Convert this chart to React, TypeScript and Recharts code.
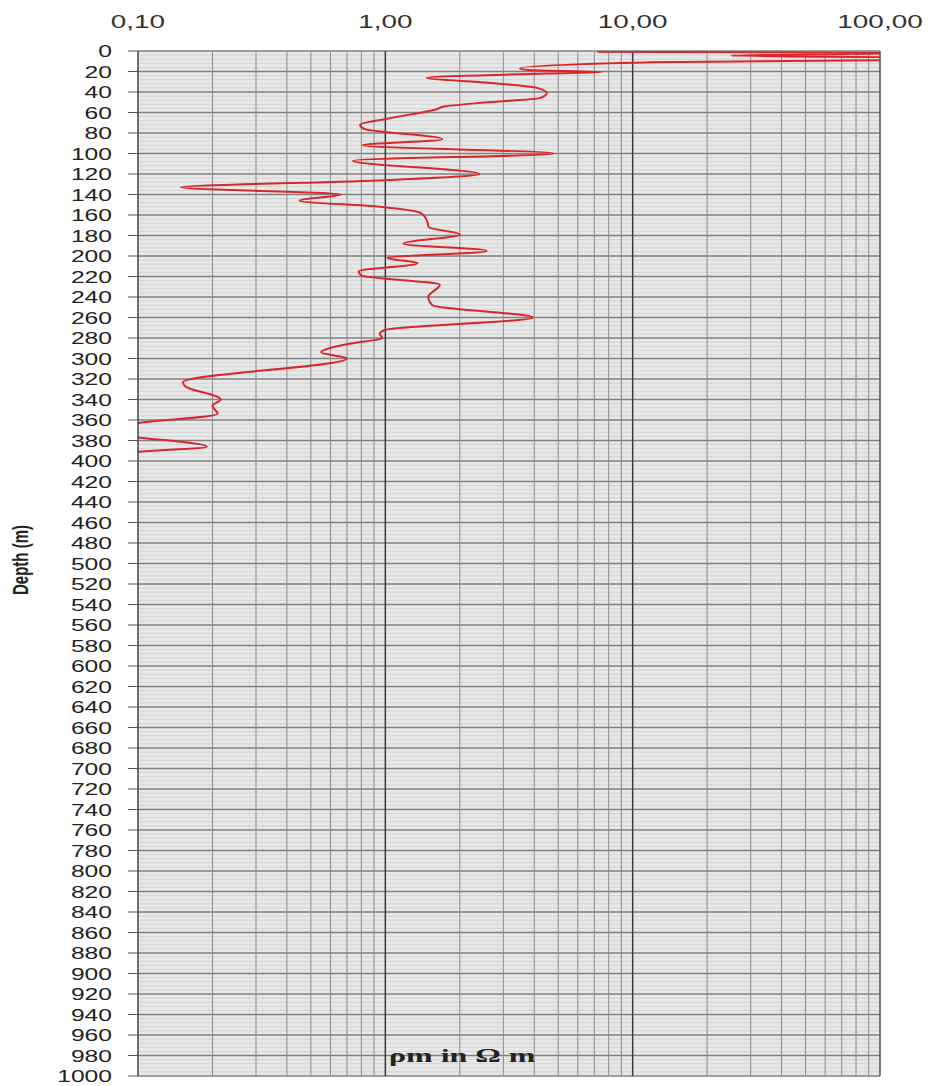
import {
  LineChart,
  Line,
  XAxis,
  YAxis,
  ReferenceLine,
  ReferenceArea,
} from 'recharts';

const depths = [
  0.8, 1.8, 4.5, 6.5, 8.5, 11, 17, 18.5, 20.5, 22, 26, 31, 36, 41, 46, 50, 54, 57,
  66, 72, 76, 86, 92, 100, 107, 120, 126, 133, 140, 146, 152, 158, 165, 172, 179,
  188, 195, 202, 207, 215, 219, 228, 240, 248, 260, 272, 276, 280, 286, 294, 300,
  323, 327, 340, 346, 354, 363, 369, 373, 377, 386, 391, 395,
];
const rho = [
  7.2, 150, 25, 150, 150, 12, 3.5, 3.8, 7.5, 4.5, 1.47, 2.6, 4.1, 4.5, 4.2, 2.6, 1.75, 1.6,
  1.02, 0.79, 0.82, 1.7, 0.81, 4.8, 0.74, 2.4, 1.0, 0.149, 0.66, 0.45, 0.95, 1.39, 1.47, 1.5, 2.0,
  1.18, 2.57, 1.02, 1.35, 0.78, 0.8, 1.66, 1.49, 1.55, 3.95, 1.0, 0.95, 0.97, 0.7, 0.55, 0.7,
  0.152, 0.155, 0.216, 0.2, 0.21, 0.1, 0.07, 0.07, 0.1, 0.19, 0.1, 0.08,
];

const rhoTicks = [0.1, 1, 10, 100];
const depthTicks = Array.from({ length: 51 }, (_, i) => i * 20);
const minorDepth = Array.from({ length: 251 }, (_, i) => i * 4).filter(d => d % 20 !== 0);
const minorRho = [0.1, 1, 10].flatMap(b => [2, 3, 4, 5, 6, 7, 8, 9].map(k => +(b * k).toFixed(2)));
const decadeRho = [1, 10];

const data = depths.map((d, i) => ({ depth: d, rho: rho[i] }));

const FONT = "'Liberation Sans', Arial, sans-serif";

const fmt = (v: number) => v.toFixed(2).replace('.', ',');

const TopTick = ({ x, y, payload }: any) => (
  <g transform={`translate(${x},${y})`}>
    <text transform="scale(1.55,1)" textAnchor="middle" fontSize={18} fontFamily={FONT} fill="#333">
      {fmt(payload.value)}
    </text>
  </g>
);

const LeftTick = ({ x, y, payload }: any) => (
  <g transform={`translate(${x},${y})`}>
    <text transform="scale(1.45,1)" textAnchor="end" dy="0.36em" fontSize={17} fontFamily={FONT} fill="#222">
      {payload.value}
    </text>
  </g>
);

export default function App() {
  return (
    <div style={{ position: 'absolute', left: 0, top: 0, width: 930, height: 1086, background: '#fff' }}>
      <LineChart
        width={930}
        height={1086}
        data={data}
        layout="vertical"
        margin={{ top: 0, right: 50, bottom: 10, left: 0 }}
      >
        <XAxis
          type="number"
          scale="log"
          domain={[0.1, 100]}
          ticks={rhoTicks}
          orientation="top"
          height={51}
          axisLine={false}
          tickLine={false}
          tickSize={0}
          tickMargin={23}
          tick={<TopTick />}
          allowDataOverflow
        />
        <YAxis
          type="number"
          dataKey="depth"
          domain={[0, 1000]}
          ticks={depthTicks}
          interval={0}
          width={138}
          axisLine={{ stroke: '#444', strokeWidth: 1.5 }}
          tickLine={{ stroke: '#555' }}
          tickSize={10}
          tickMargin={16}
          tick={<LeftTick />}
          allowDataOverflow
        />
        <ReferenceArea x1={0.1} x2={100} y1={0} y2={1000} fill="#e8e8e8" fillOpacity={1} stroke="none" />
        {minorDepth.map(d => (
          <ReferenceLine key={`hm${d}`} y={d} stroke="#d4d4d4" strokeWidth={1} />
        ))}
        {depthTicks.map(d => (
          <ReferenceLine key={`hM${d}`} y={d} stroke="#808080" strokeWidth={1.5} />
        ))}
        {minorRho.map(v => (
          <ReferenceLine key={`vm${v}`} x={v} stroke="#8c8c8c" strokeWidth={1} />
        ))}
        {decadeRho.map(v => (
          <ReferenceLine key={`vM${v}`} x={v} stroke="#3a3a3a" strokeWidth={1.5} />
        ))}
        <ReferenceLine x={100} stroke="#555" strokeWidth={1.5} />
        <Line
          dataKey="rho"
          type="monotone"
          stroke="#d9262b"
          strokeWidth={2}
          dot={false}
          isAnimationActive={false}
        />
      </LineChart>
      <div
        style={{
          position: 'absolute',
          left: 20,
          top: 560,
          transform: 'translate(-50%,-50%) rotate(-90deg) scale(1,1.5)',
          fontFamily: FONT,
          fontWeight: 'bold',
          fontSize: 15,
          color: '#222',
          whiteSpace: 'nowrap',
        }}
      >
        Depth (m)
      </div>
      <div
        style={{
          position: 'absolute',
          left: 389,
          top: 1045,
          transform: 'scale(1.68,1)',
          transformOrigin: 'left top',
          fontFamily: "'Liberation Serif', 'Times New Roman', serif",
          fontWeight: 'bold',
          fontSize: 19,
          color: '#222',
          whiteSpace: 'nowrap',
        }}
      >
        ρm in Ω m
      </div>
    </div>
  );
}
